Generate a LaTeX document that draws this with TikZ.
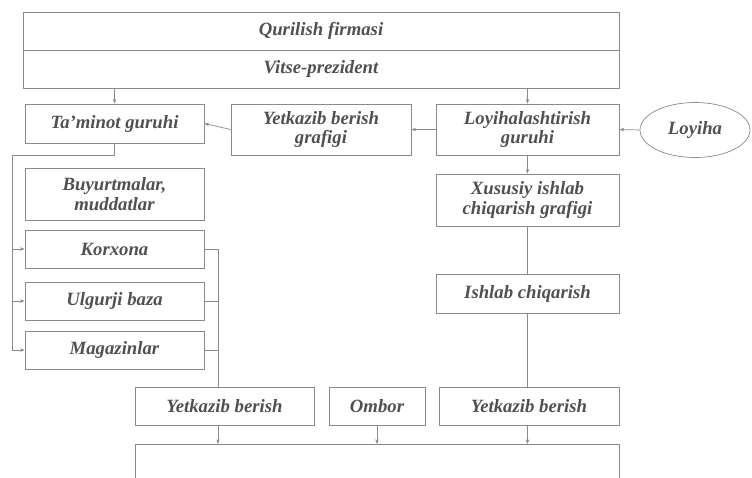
\documentclass[tikz,border=0pt]{standalone}
\usepackage{fontspec}
\setmainfont{Liberation Serif}
\usepackage{tikz}
\usepackage{xcolor}
\usetikzlibrary{positioning, arrows.meta, shapes.geometric, calc}
\definecolor{mText}{HTML}{505050}
\definecolor{mLine}{HTML}{8A8A8A}

\begin{document}
\begin{tikzpicture}[
  x=0.03cm, y=-0.03cm,
  box/.style={draw=mLine, line width=0.6pt, inner sep=1pt, align=center,
              text=mText, font=\fontsize{16}{17}\selectfont\bfseries\itshape},
  oval/.style={box, ellipse},
  link/.style={draw=mLine, line width=0.6pt},
  arr/.style={link, -{Stealth[length=4pt,width=3pt]}},
]
  \useasboundingbox (0,0) rectangle (752,478);
  \clip (0,0) rectangle (752,478);

  \node[box, minimum width=17.88cm, minimum height=1.14cm] (firma) at (321,31) {Qurilish firmasi};
  \node[box, minimum width=17.88cm, minimum height=1.14cm] (vitse) at (321,69) {Vitse-prezident};

  \node[box, minimum width=5.37cm, minimum height=1.17cm] (taminot) at (114.5,123.5) {Ta'minot guruhi};
  \node[box, minimum width=5.4cm, minimum height=1.53cm] (grafik) at (321,129.5) {Yetkazib berish\\grafigi};
  \node[box, minimum width=5.49cm, minimum height=1.53cm] (loyihalash) at (527.5,129.5) {Loyihalashtirish\\guruhi};
  \node[oval, minimum width=3.3cm, minimum height=1.65cm] (loyiha) at (695,130) {Loyiha};

  \node[box, minimum width=5.37cm, minimum height=1.56cm] (buyurtma) at (114.5,194) {Buyurtmalar,\\muddatlar};
  \node[box, minimum width=5.37cm, minimum height=1.14cm] (korxona) at (114.5,249) {Korxona};
  \node[box, minimum width=5.37cm, minimum height=1.14cm] (ulgurji) at (114.5,301) {Ulgurji baza};
  \node[box, minimum width=5.37cm, minimum height=1.14cm] (magazin) at (114.5,350) {Magazinlar};

  \node[box, minimum width=5.49cm, minimum height=1.56cm] (xususiy) at (527.5,200) {Xususiy ishlab\\chiqarish grafigi};
  \node[box, minimum width=5.49cm, minimum height=1.17cm] (ishlab) at (527.5,293.5) {Ishlab chiqarish};

  \node[box, minimum width=5.37cm, minimum height=1.14cm] (yetk1) at (224.5,406) {Yetkazib berish};
  \node[box, minimum width=2.88cm, minimum height=1.14cm] (ombor) at (377,406) {Ombor};
  \node[box, minimum width=5.4cm, minimum height=1.14cm] (yetk2) at (529,406) {Yetkazib berish};
  \node[box, minimum width=14.52cm, minimum height=1.8cm, anchor=north] (quyi) at (377,444) {};

  \coordinate (chap) at (12,155);
  \coordinate (ong) at (218,249);

  \draw[arr] (taminot.north |- vitse.south) -- (taminot.north);
  \draw[arr] (loyihalash.north |- vitse.south) -- (loyihalash.north);
  \draw[arr] (loyiha.west) -- (loyihalash.east);
  \draw[arr] (loyihalash.west) -- (grafik.east);
  \draw[arr] (grafik.west) -- (taminot.east);
  \draw[arr] (loyihalash.south) -- (xususiy.north);
  \draw[link] (xususiy.south) -- (ishlab.north);
  \draw[link] (ishlab.south) -- (ishlab.south |- yetk2.north);

  \draw[link] (taminot.south) -- (taminot.south |- chap) -- (chap);
  \draw[arr] (chap) |- (magazin.west);
  \draw[arr] (chap |- korxona.west) -- (korxona.west);
  \draw[arr] (chap |- ulgurji.west) -- (ulgurji.west);

  \draw[link] (korxona.east) -- (ong) -- (ong |- yetk1.north);
  \draw[link] (ulgurji.east) -- (ong |- ulgurji.east);
  \draw[link] (magazin.east) -- (ong |- magazin.east);

  \draw[arr] (ong |- yetk1.south) -- (ong |- quyi.north);
  \draw[arr] (ombor.south) -- (ombor.south |- quyi.north);
  \draw[arr] (ishlab.south |- yetk2.south) -- (ishlab.south |- quyi.north);
\end{tikzpicture}
\end{document}
